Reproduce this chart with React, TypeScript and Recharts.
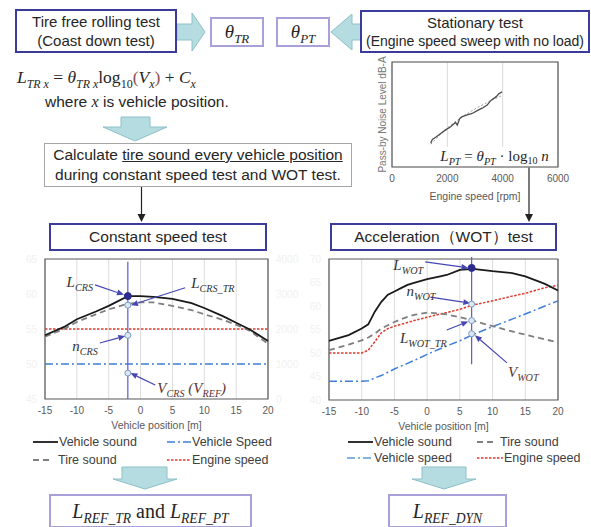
import React from 'react';
import { LineChart, Line, XAxis, YAxis, CartesianGrid, ReferenceLine, ReferenceDot, ReferenceArea } from 'recharts';

const SANS = '"Liberation Sans", Arial, sans-serif';
const SERIF = '"Liberation Serif", "DejaVu Serif", serif';
const NAVY = '#3b3b9c';
const LAVENDER = '#a8a1d9';
const POINTER = '#4646b4';
const AXIS_TEXT = '#595959';
const FAINT = '#f1f1f1';
const BLOCK_FILL = '#b5dde1';
const BLOCK_STROKE = '#8cc0c6';

// ---------- Stationary test (engine speed sweep, no load) ----------
const sweepRpm = [1400, 1460, 1580, 1760, 1940, 2120, 2220, 2300, 2360, 2450, 2540, 2720, 2900, 3080, 3260, 3440, 3560, 3620, 3680, 3770, 3860, 3980];
const sweepLevel = [66.8, 67.9, 68.5, 69.6, 70.6, 71.5, 72.2, 72.7, 72.0, 73.9, 74.4, 74.9, 75.3, 76.1, 76.8, 77.7, 78.9, 79.3, 79.6, 80.1, 80.9, 81.5];
const fitRpm = [1400, 2000, 2500, 3000, 3500, 4000];
const fitLevel = [66.5, 71.2, 74.2, 76.6, 78.7, 80.5];
const rpmTicks = [0, 2000, 4000, 6000];
const levelTicks = [60, 65, 70, 75, 80, 85, 90];

// ---------- Constant speed test ----------
const crsPosition = [-15, -12, -10, -7, -5, -2, 0, 2, 5, 8, 10, 13, 15, 17, 20];
const crsVehicleSound = [54.1, 55.3, 56.4, 57.5, 58.3, 59.7, 59.7, 59.6, 59.3, 58.7, 58.0, 56.8, 55.9, 55.0, 53.3];
const crsTireSound = [53.9, 55.0, 56.0, 57.1, 57.8, 58.6, 58.8, 58.8, 58.3, 57.7, 57.1, 56.3, 55.6, 54.8, 52.9];
const crsVehicleSpeed = [50, 50, 50, 50, 50, 50, 50, 50, 50, 50, 50, 50, 50, 50, 50];
const crsEngineSpeed = [2000, 2000, 2000, 2000, 2000, 2000, 2000, 2000, 2000, 2000, 2000, 2000, 2000, 2000, 2000];
const crsCursor = -2;
const crsMarks = [59.7, 58.4, 54.1, 48.7]; // L_CRS, L_CRS_TR, n_CRS, V_CRS
const crsLeftTicks = [45, 50, 55, 60, 65];
const crsRightTicks = [0, 1000, 2000, 3000, 4000];

// ---------- Acceleration (WOT) test ----------
const wotPosition = [-15, -12, -10, -9, -8, -7, -6, -5, -4, -3, -2, 0, 2, 3, 5, 7, 10, 13, 15, 18, 20];
const wotVehicleSound = [52.6, 53.8, 55.2, 56.1, 58.8, 60.9, 62.4, 63.1, 63.8, 64.5, 64.9, 65.7, 66.3, 66.6, 67.7, 67.9, 67.4, 67.0, 66.3, 64.7, 63.3];
const wotTireSound = [50.6, 51.8, 52.7, 53.3, 54.1, 55.2, 55.9, 56.6, 57.2, 57.7, 58.1, 58.6, 58.4, 58.2, 57.6, 56.9, 55.7, 54.6, 53.9, 52.9, 52.3];
const wotEngineSpeed = [50.0, 50.0, 50.0, 50.6, 52.4, 54.3, 55.2, 55.7, 56.1, 56.5, 56.9, 57.6, 58.3, 58.6, 59.3, 60.2, 61.1, 62.1, 62.7, 63.9, 64.4];
const wotVehicleSpeed = [44.0, 44.0, 44.0, 44.1, 44.7, 45.2, 45.9, 46.6, 47.2, 47.8, 48.4, 49.7, 50.9, 51.5, 52.6, 53.9, 55.6, 57.2, 58.3, 60.0, 61.1];
const wotCursor = 6.8;
const wotMarks = [68.1, 60.4, 56.9, 54.1]; // L_WOT, n_WOT, L_WOT_TR, V_WOT
const wotTicks = [40, 45, 50, 55, 60, 65, 70];

const positionTicks = [-15, -10, -5, 0, 5, 10, 15, 20];

const sweepData = sweepRpm.map((x, i) => ({ x, y: sweepLevel[i] }));
const fitData = fitRpm.map((x, i) => ({ x, y: fitLevel[i] }));
const crsData = crsPosition.map((x, i) => ({ x, vehicle: crsVehicleSound[i], tire: crsTireSound[i], speed: crsVehicleSpeed[i], engine: crsEngineSpeed[i] }));
const wotData = wotPosition.map((x, i) => ({ x, vehicle: wotVehicleSound[i], tire: wotTireSound[i], engine: wotEngineSpeed[i], speed: wotVehicleSpeed[i] }));

const S_VEHICLE = { stroke: '#1a1a1a', width: 1.8, dash: undefined as string | undefined };
const S_TIRE = { stroke: '#7f7f7f', width: 1.8, dash: '6 4' };
const S_ENGINE = { stroke: '#e03a2c', width: 1.5, dash: '2.5 1.5' };
const S_SPEED = { stroke: '#3e7fd6', width: 1.5, dash: '8 3 2 3' };

type Part = [string, boolean?];

const SvgMath = ({ x, y, anchor, parts, color = '#333', size = 15 }: { x: number; y: number; anchor: 'start' | 'end' | 'middle'; parts: Part[]; color?: string; size?: number }) => {
  let shifted = false;
  return (
    <text x={x} y={y} textAnchor={anchor} fontFamily={SERIF} fontStyle="italic" fontSize={size} fill={color}>
      {parts.map(([t, sub], i) => {
        const dy = sub && !shifted ? size * 0.28 : !sub && shifted ? -size * 0.28 : 0;
        shifted = !!sub;
        return (
          <tspan key={i} dy={dy} fontSize={sub ? size * 0.68 : size}>
            {t}
          </tspan>
        );
      })}
    </text>
  );
};

const pointerShape = (lx: number, ly: number, anchor: 'start' | 'end', parts: Part[], color = '#333') => (p: any) => {
  const x1 = Number(p.x1), y1 = Number(p.y1), x2 = Number(p.x2), y2 = Number(p.y2);
  const ang = Math.atan2(y2 - y1, x2 - x1);
  const hl = 7, hw = 3;
  const bx = x2 - hl * Math.cos(ang), by = y2 - hl * Math.sin(ang);
  const px = -Math.sin(ang) * hw, py = Math.cos(ang) * hw;
  return (
    <g>
      <line x1={x1} y1={y1} x2={bx} y2={by} stroke={POINTER} strokeWidth={1.2} />
      <polygon points={`${x2},${y2} ${bx + px},${by + py} ${bx - px},${by - py}`} fill={POINTER} />
      <SvgMath x={x1 + lx} y={y1 + ly} anchor={anchor} parts={parts} color={color} />
    </g>
  );
};

const M = ({ b, s, size }: { b: string; s?: string; size: number }) => (
  <span style={{ fontFamily: SERIF, fontStyle: 'italic', fontSize: size, whiteSpace: 'nowrap' }}>
    {b}
    {s ? <span style={{ fontSize: size * 0.68, position: 'relative', top: size * 0.28 }}>{s}</span> : null}
  </span>
);

const Box = ({ l, t, w, h, border, children, style }: any) => (
  <div
    style={{
      position: 'absolute', left: l, top: t, width: w, height: h, boxSizing: 'border-box', border, background: '#fff',
      display: 'flex', flexDirection: 'column', alignItems: 'center', justifyContent: 'center', textAlign: 'center', ...style,
    }}
  >
    {children}
  </div>
);

const LegendItem = ({ left, center, sw, gap, s, text }: any) => (
  <div style={{ position: 'absolute', left, top: center - 8, height: 16, display: 'flex', alignItems: 'center', fontSize: 12.5, color: '#404040', whiteSpace: 'nowrap' }}>
    <svg width={sw} height={6}>
      <line x1={0} y1={3} x2={sw} y2={3} stroke={s.stroke} strokeWidth={s.width} strokeDasharray={s.dash} />
    </svg>
    <span style={{ marginLeft: gap }}>{text}</span>
  </div>
);

const tickStyle = { fontSize: 10, fill: AXIS_TEXT, fontFamily: SANS };
const faintTick = { fontSize: 10, fill: FAINT, fontFamily: SANS };

export default function App() {
  return (
    <div style={{ position: 'absolute', left: 0, top: 0, width: 591, height: 527, background: '#fff', fontFamily: SANS, color: '#262626', overflow: 'hidden' }}>
      {/* flow arrows */}
      <svg width={591} height={527} style={{ position: 'absolute', left: 0, top: 0 }}>
        <polygon points="177,24 192,24 192,13 205,32 192,51 192,40 177,40" fill={BLOCK_FILL} stroke={BLOCK_STROKE} />
        <polygon points="331,32 352,14 352,24 362,24 362,40 352,40 352,50" fill={BLOCK_FILL} stroke={BLOCK_STROKE} />
        <polygon points="121,117 150,117 150,127 167,127 135,141 103,127 121,127" fill={BLOCK_FILL} stroke={BLOCK_STROKE} />
        <polygon points="122,467 167,467 167,479 177,479 145,489 113,479 122,479" fill={BLOCK_FILL} stroke={BLOCK_STROKE} />
        <polygon points="422,467 466,467 466,479 476,479 444,489 412,479 422,479" fill={BLOCK_FILL} stroke={BLOCK_STROKE} />
        <line x1={141.5} y1={187} x2={141.5} y2={215} stroke="#222" strokeWidth={1.2} />
        <polygon points="137.5,214 145.5,214 141.5,222" fill="#222" />
        <line x1={529} y1={167} x2={529} y2={215} stroke="#222" strokeWidth={1.2} />
        <polygon points="525,214 533,214 529,222" fill="#222" />
      </svg>

      {/* top row */}
      <Box l={15} t={9} w={162} h={44} border={`2px solid ${NAVY}`} style={{ fontSize: 15, lineHeight: '19px' }}>
        <div>Tire free rolling test</div>
        <div>(Coast down test)</div>
      </Box>
      <Box l={210} t={17} w={54} h={30} border={`2px solid ${LAVENDER}`}>
        <M b="θ" s="TR" size={19} />
      </Box>
      <Box l={276} t={17} w={54} h={30} border={`2px solid ${LAVENDER}`}>
        <M b="θ" s="PT" size={19} />
      </Box>
      <Box l={360} t={10} w={230} h={43} border={`2px solid ${NAVY}`} style={{ lineHeight: '18px' }}>
        <div style={{ fontSize: 15 }}>Stationary test</div>
        <div style={{ fontSize: 14 }}>(Engine speed sweep with no load)</div>
      </Box>

      <div style={{ position: 'absolute', left: 17, top: 67, fontSize: 17.5, whiteSpace: 'nowrap', fontFamily: SERIF }}>
        <M b="L" s="TR x" size={17.5} /> = <M b="θ" s="TR x" size={17.5} />
        <span>log</span>
        <span style={{ fontSize: 12, position: 'relative', top: 5 }}>10</span>
        <span style={{ color: '#8a5050' }}>(</span>
        <M b="V" s="x" size={17.5} />
        <span style={{ color: '#8a5050' }}>)</span> + <M b="C" s="x" size={17.5} />
      </div>
      <div style={{ position: 'absolute', left: 45, top: 93, fontSize: 15.5, whiteSpace: 'nowrap' }}>
        where <M b="x" size={16} /> is vehicle position.
      </div>

      <Box l={44} t={143} w={308} h={44} border="1px solid #a6a6a6" style={{ fontSize: 15.5, lineHeight: '20px' }}>
        <div>
          Calculate <u>tire sound every vehicle position</u>
        </div>
        <div>during constant speed test and WOT test.</div>
      </Box>

      <Box l={49} t={223} w={218} h={28} border={`2px solid ${NAVY}`} style={{ fontSize: 15.5 }}>
        Constant speed test
      </Box>
      <Box l={330} t={223} w={227} h={28} border={`2px solid ${NAVY}`} style={{ fontSize: 15.5 }}>
        Acceleration（WOT）test
      </Box>

      {/* stationary sweep chart */}
      <div style={{ position: 'absolute', left: 370, top: 55 }}>
        <LineChart width={221} height={150} margin={{ top: 7, right: 33, left: 2, bottom: 2 }}>
          <CartesianGrid stroke="#d9d9d9" />
          <XAxis
            type="number" dataKey="x" domain={[0, 6000]} ticks={rpmTicks} tickLine={false} axisLine={false} tick={tickStyle} height={36}
            label={{ value: 'Engine speed [rpm]', position: 'insideBottom', offset: 3, style: { fontSize: 10.5, fill: AXIS_TEXT, fontFamily: SANS } }}
          />
          <YAxis
            type="number" domain={[60, 90]} ticks={levelTicks} tick={false} tickLine={false} axisLine={false} width={20}
            label={{ value: 'Pass-by Noise Level dB-A', angle: -90, position: 'center', style: { fontSize: 10, fill: '#777', fontFamily: SANS } }}
          />
          <ReferenceArea x1={0} x2={6000} y1={60} y2={90} fill="none" stroke="#595959" strokeWidth={1.2} />
          <Line data={fitData} dataKey="y" stroke="#a0a0a0" strokeDasharray="2 2" strokeWidth={1} dot={false} isAnimationActive={false} />
          <Line data={sweepData} dataKey="y" stroke="#4d4d4d" strokeWidth={1.3} dot={false} isAnimationActive={false} />
        </LineChart>
      </div>
      <div style={{ position: 'absolute', left: 432, top: 147, width: 125, height: 19, background: '#fff', display: 'flex', alignItems: 'center', justifyContent: 'center', fontFamily: SERIF, fontSize: 15, whiteSpace: 'nowrap' }}>
        <M b="L" s="PT" size={15} />
        &nbsp;=&nbsp;
        <M b="θ" s="PT" size={15} />
        &nbsp;·&nbsp;log<span style={{ fontSize: 10, position: 'relative', top: 4 }}>10</span>&nbsp;<M b="n" size={15} />
      </div>

      {/* constant speed chart */}
      <div style={{ position: 'absolute', left: 0, top: 240 }}>
        <LineChart width={300} height={195} data={crsData} margin={{ top: 19, right: 2, left: 15, bottom: 6 }}>
          <CartesianGrid yAxisId="l" horizontal={false} stroke="#dcdcdc" />
          <XAxis
            type="number" dataKey="x" domain={[-15, 20]} ticks={positionTicks} tickLine={false} axisLine={false} tick={tickStyle} height={30}
            label={{ value: 'Vehicle position [m]', position: 'insideBottom', offset: 0, style: { fontSize: 10.5, fill: AXIS_TEXT, fontFamily: SANS } }}
          />
          <YAxis yAxisId="l" type="number" domain={[45, 65]} ticks={crsLeftTicks} width={30} tick={faintTick} tickLine={false} axisLine={false} />
          <YAxis yAxisId="r" orientation="right" type="number" domain={[0, 4000]} ticks={crsRightTicks} width={30} tick={faintTick} tickLine={false} axisLine={false} />
          <ReferenceArea yAxisId="l" x1={-15} x2={20} y1={45} y2={65} fill="none" stroke="#595959" strokeWidth={1.2} />
          <Line yAxisId="r" dataKey="engine" stroke={S_ENGINE.stroke} strokeWidth={S_ENGINE.width} strokeDasharray={S_ENGINE.dash} dot={false} isAnimationActive={false} />
          <Line yAxisId="l" dataKey="speed" stroke={S_SPEED.stroke} strokeWidth={S_SPEED.width} strokeDasharray={S_SPEED.dash} dot={false} isAnimationActive={false} />
          <Line yAxisId="l" dataKey="tire" stroke={S_TIRE.stroke} strokeWidth={S_TIRE.width} strokeDasharray={S_TIRE.dash} dot={false} isAnimationActive={false} />
          <Line yAxisId="l" dataKey="vehicle" stroke={S_VEHICLE.stroke} strokeWidth={S_VEHICLE.width} dot={false} isAnimationActive={false} />
          <ReferenceLine yAxisId="l" segment={[{ x: crsCursor, y: 64.6 }, { x: crsCursor, y: 45 }]} stroke="#5b5bd0" strokeWidth={1.2} />
          <ReferenceLine yAxisId="l" segment={[{ x: -7.15, y: 61.3 }, { x: -2.6, y: 59.9 }]} shape={pointerShape(-2, 2, 'end', [['L'], ['CRS', true]])} />
          <ReferenceLine yAxisId="l" segment={[{ x: 7.0, y: 60.9 }, { x: -1.5, y: 58.4 }]} shape={pointerShape(6, 0, 'start', [['L'], ['CRS_TR', true]])} />
          <ReferenceLine yAxisId="l" segment={[{ x: -6.4, y: 53.0 }, { x: -2.4, y: 54.0 }]} shape={pointerShape(-2, 8, 'end', [['n'], ['CRS', true]])} />
          <ReferenceLine yAxisId="l" segment={[{ x: 2.3, y: 47.0 }, { x: -1.6, y: 48.7 }]} shape={pointerShape(2, 8, 'start', [['V'], ['CRS', true], [' ('], ['V'], ['REF', true], [')']], '#5a3535')} />
          <ReferenceDot yAxisId="l" x={crsCursor} y={crsMarks[0]} r={3.5} fill="#2b2b8c" stroke="#2b2b8c" />
          <ReferenceDot yAxisId="l" x={crsCursor} y={crsMarks[1]} r={3} fill="#dbe7f1" stroke="#7d9cc0" />
          <ReferenceDot yAxisId="l" x={crsCursor} y={crsMarks[2]} r={3} fill="#dbe7f1" stroke="#7d9cc0" />
          <ReferenceDot yAxisId="l" x={crsCursor} y={crsMarks[3]} r={3} fill="#dbe7f1" stroke="#7d9cc0" />
        </LineChart>
      </div>

      {/* WOT chart */}
      <div style={{ position: 'absolute', left: 300, top: 240 }}>
        <LineChart width={291} height={195} data={wotData} margin={{ top: 19, right: 33, left: 1, bottom: 5 }}>
          <CartesianGrid horizontal={false} stroke="#dcdcdc" />
          <XAxis
            type="number" dataKey="x" domain={[-15, 20]} ticks={positionTicks} tickLine={false} axisLine={false} tick={tickStyle} height={30}
            label={{ value: 'Vehicle position [m]', position: 'insideBottom', offset: 0, style: { fontSize: 10.5, fill: AXIS_TEXT, fontFamily: SANS } }}
          />
          <YAxis type="number" domain={[40, 70]} ticks={wotTicks} width={28} tick={faintTick} tickLine={false} axisLine={false} />
          <ReferenceArea x1={-15} x2={20} y1={40} y2={70} fill="none" stroke="#595959" strokeWidth={1.2} />
          <Line dataKey="speed" stroke={S_SPEED.stroke} strokeWidth={S_SPEED.width} strokeDasharray={S_SPEED.dash} dot={false} isAnimationActive={false} />
          <Line dataKey="engine" stroke={S_ENGINE.stroke} strokeWidth={S_ENGINE.width} strokeDasharray={S_ENGINE.dash} dot={false} isAnimationActive={false} />
          <Line dataKey="tire" stroke={S_TIRE.stroke} strokeWidth={S_TIRE.width} strokeDasharray={S_TIRE.dash} dot={false} isAnimationActive={false} />
          <Line dataKey="vehicle" stroke={S_VEHICLE.stroke} strokeWidth={S_VEHICLE.width} dot={false} isAnimationActive={false} />
          <ReferenceLine ifOverflow="visible" segment={[{ x: wotCursor, y: 70.4 }, { x: wotCursor, y: 47.6 }]} stroke="#5b5bd0" strokeWidth={1.2} />
          <ReferenceLine segment={[{ x: -0.3, y: 69.4 }, { x: 6.3, y: 68.1 }]} shape={pointerShape(-2, 8, 'end', [['L'], ['WOT', true]])} />
          <ReferenceLine segment={[{ x: 0.5, y: 61.9 }, { x: 6.6, y: 60.6 }]} shape={pointerShape(5, -1, 'end', [['n'], ['WOT', true]])} />
          <ReferenceLine segment={[{ x: 3.0, y: 54.9 }, { x: 6.3, y: 56.7 }]} shape={pointerShape(0, 13, 'end', [['L'], ['WOT_TR', true]])} />
          <ReferenceLine segment={[{ x: 12.2, y: 47.9 }, { x: 7.3, y: 53.8 }]} shape={pointerShape(1, 14, 'start', [['V'], ['WOT', true]], '#5a3535')} />
          <ReferenceDot x={wotCursor} y={wotMarks[0]} r={3.5} fill="#2b2b8c" stroke="#2b2b8c" />
          <ReferenceDot x={wotCursor} y={wotMarks[1]} r={3} fill="#dbe7f1" stroke="#7d9cc0" />
          <ReferenceDot x={wotCursor} y={wotMarks[2]} r={3} fill="#dbe7f1" stroke="#7d9cc0" />
          <ReferenceDot x={wotCursor} y={wotMarks[3]} r={3} fill="#dbe7f1" stroke="#7d9cc0" />
        </LineChart>
      </div>

      {/* legends */}
      <LegendItem left={33} center={442} sw={25} gap={1} s={S_VEHICLE} text="Vehicle sound" />
      <LegendItem left={167} center={442} sw={24} gap={1} s={S_SPEED} text="Vehicle Speed" />
      <LegendItem left={33} center={460} sw={18} gap={7} s={S_TIRE} text="Tire sound" />
      <LegendItem left={167} center={460} sw={24} gap={1} s={S_ENGINE} text="Engine speed" />

      <LegendItem left={348} center={442} sw={25} gap={1} s={S_VEHICLE} text="Vehicle sound" />
      <LegendItem left={477} center={442} sw={18} gap={5} s={S_TIRE} text="Tire sound" />
      <LegendItem left={347} center={458} sw={26} gap={1} s={{ ...S_SPEED, stroke: '#5b9bd5' }} text="Vehicle speed" />
      <LegendItem left={477} center={458} sw={26} gap={1} s={S_ENGINE} text="Engine speed" />

      {/* results */}
      <Box l={49} t={494} w={203} h={34} border={`2px solid ${LAVENDER}`} style={{ fontSize: 20, fontFamily: SERIF, flexDirection: 'row', whiteSpace: 'nowrap' }}>
        <M b="L" s="REF_TR" size={20} />
        <span>&nbsp;and&nbsp;</span>
        <M b="L" s="REF_PT" size={20} />
      </Box>
      <Box l={388} t={494} w={119} h={34} border={`2px solid ${LAVENDER}`} style={{ fontSize: 20, fontFamily: SERIF, flexDirection: 'row' }}>
        <M b="L" s="REF_DYN" size={20} />
      </Box>
    </div>
  );
}
